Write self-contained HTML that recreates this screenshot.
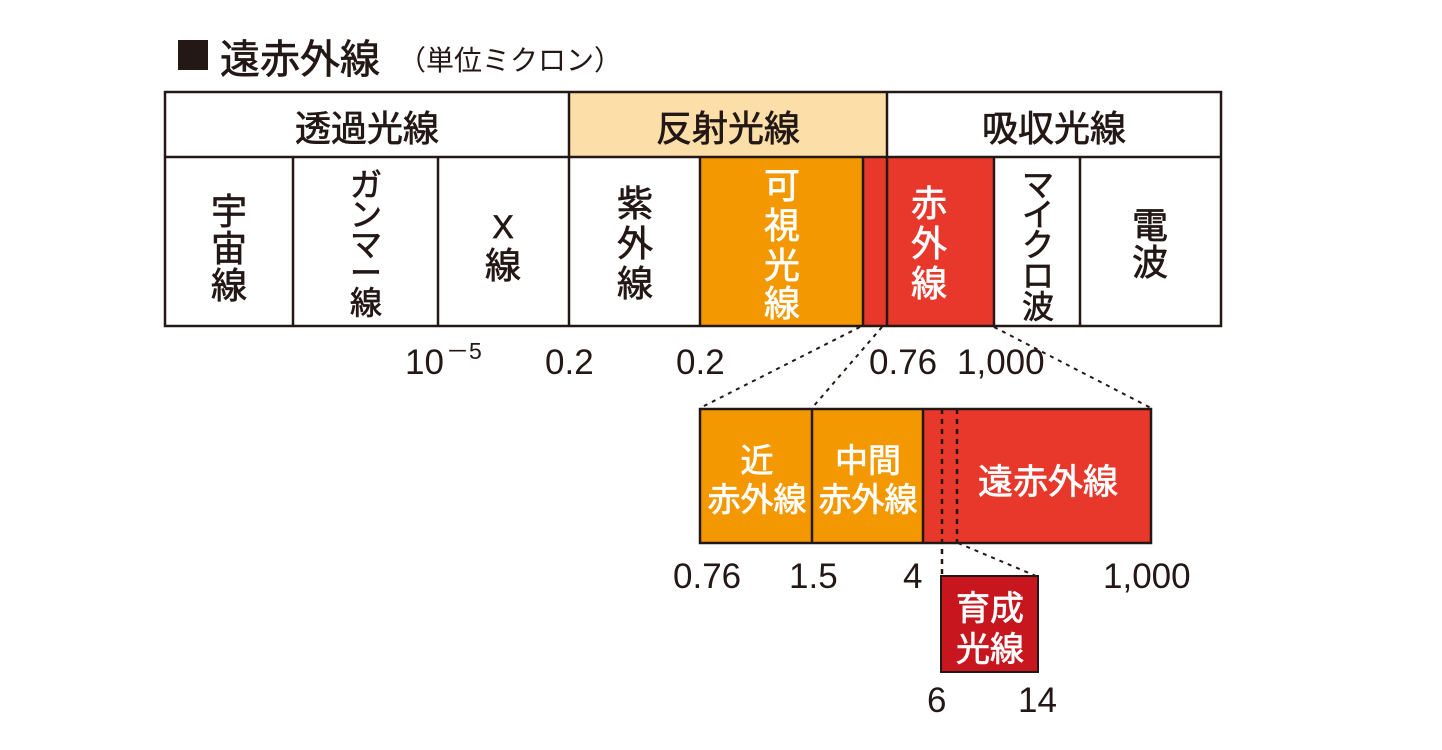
<!DOCTYPE html>
<html><head><meta charset="utf-8"><style>
body{margin:0;background:#fff}
svg{display:block}
text{font-family:"Liberation Sans","Noto Sans CJK JP",sans-serif}
.t{stroke-width:0.7}
</style></head><body>
<svg width="1442" height="750" viewBox="0 0 1442 750">
<rect x="178" y="40" width="30" height="30" fill="#231815"/>
<text x="220" y="73" font-size="40" fill="#231815" stroke="#231815" class="t">遠赤外線</text>
<text x="398" y="70" font-size="28" fill="#231815">（単位ミクロン）</text>

<rect x="569" y="92" width="318" height="65" fill="#FCDEA8"/>
<rect x="700" y="157" width="163" height="169" fill="#F39800"/>
<rect x="863" y="157" width="131" height="169" fill="#E8372B"/>
<g stroke="#231815" stroke-width="2.5" fill="none">
<rect x="165" y="92" width="1056" height="234"/>
<line x1="165" y1="157" x2="1221" y2="157"/>
<line x1="569" y1="92" x2="569" y2="326"/>
<line x1="887" y1="92" x2="887" y2="326"/>
<line x1="293" y1="157" x2="293" y2="326"/>
<line x1="438" y1="157" x2="438" y2="326"/>
<line x1="700" y1="157" x2="700" y2="326"/>
<line x1="863" y1="157" x2="863" y2="326"/>
<line x1="994" y1="157" x2="994" y2="326"/>
<line x1="1080" y1="157" x2="1080" y2="326"/>
</g>
<g font-size="36" fill="#231815" stroke="#231815" class="t" text-anchor="middle">
<text x="367" y="141">透過光線</text>
<text x="728" y="141">反射光線</text>
<text x="1054" y="141">吸収光線</text>
<text x="229" y="224">宇</text><text x="229" y="261">宙</text><text x="229" y="298">線</text>
<text x="366" y="196" font-size="32">ガ</text><text x="366" y="226" font-size="32">ン</text><text x="366" y="256" font-size="32">マ</text><text x="366" y="284" font-size="32">ー</text><text x="366" y="314" font-size="32">線</text>
<text x="503" y="238" font-size="32">X</text><text x="503" y="278">線</text>
<text x="635" y="216">紫</text><text x="635" y="256">外</text><text x="635" y="296">線</text>
<text x="1038" y="196" font-size="32">マ</text><text x="1038" y="226" font-size="32">イ</text><text x="1038" y="256" font-size="32">ク</text><text x="1038" y="287" font-size="32">ロ</text><text x="1038" y="318" font-size="32">波</text>
<text x="1150" y="238">電</text><text x="1150" y="275">波</text>
</g>
<g font-size="36" fill="#fff" stroke="#fff" class="t" text-anchor="middle">
<text x="782" y="198">可</text><text x="782" y="238">視</text><text x="782" y="278">光</text><text x="782" y="316">線</text>
<text x="929" y="216">赤</text><text x="929" y="256">外</text><text x="929" y="296">線</text>
</g>
<g font-size="35" fill="#231815">
<text x="405" y="374">10</text><text x="446" y="359" font-size="23">－5</text>
<text x="545" y="374">0.2</text>
<text x="676" y="374">0.2</text>
<text x="869" y="374">0.76</text>
<text x="957" y="374">1,000</text>
</g>
<g stroke="#231815" stroke-width="2" stroke-dasharray="4,5" fill="none">
<line x1="860" y1="327" x2="700" y2="408"/>
<line x1="882" y1="327" x2="812" y2="408"/>
<line x1="994" y1="327" x2="1151" y2="408"/>
<line x1="958" y1="543" x2="1036" y2="576"/>
</g>
<rect x="700" y="409" width="223" height="134" fill="#F39800"/>
<rect x="923" y="409" width="228" height="134" fill="#E8372B"/>
<g stroke="#231815" stroke-width="2.5" fill="none">
<rect x="700" y="409" width="451" height="134"/>
<line x1="812" y1="409" x2="812" y2="543"/>
<line x1="923" y1="409" x2="923" y2="543"/>
</g>
<g stroke="#231815" stroke-width="2.5" stroke-dasharray="5,5">
<line x1="942" y1="409" x2="942" y2="576"/>
<line x1="957" y1="409" x2="957" y2="543"/>
</g>
<g font-size="33" fill="#fff" stroke="#fff" class="t" text-anchor="middle">
<text x="757" y="472">近</text><text x="757" y="511">赤外線</text>
<text x="868" y="472">中間</text><text x="868" y="511">赤外線</text>
<text x="1048" y="494" font-size="35">遠赤外線</text>
</g>
<g font-size="35" fill="#231815">
<text x="673" y="588">0.76</text>
<text x="789" y="588">1.5</text>
<text x="903" y="588">4</text>
<text x="1103" y="588">1,000</text>
<text x="927" y="712">6</text>
<text x="1018" y="712">14</text>
</g>
<rect x="941" y="576" width="97" height="96" fill="#C8161E" stroke="#231815" stroke-width="2"/>
<g font-size="34" fill="#fff" stroke="#fff" class="t" text-anchor="middle">
<text x="990" y="620">育成</text><text x="990" y="661">光線</text>
</g>
</svg>
</body></html>
